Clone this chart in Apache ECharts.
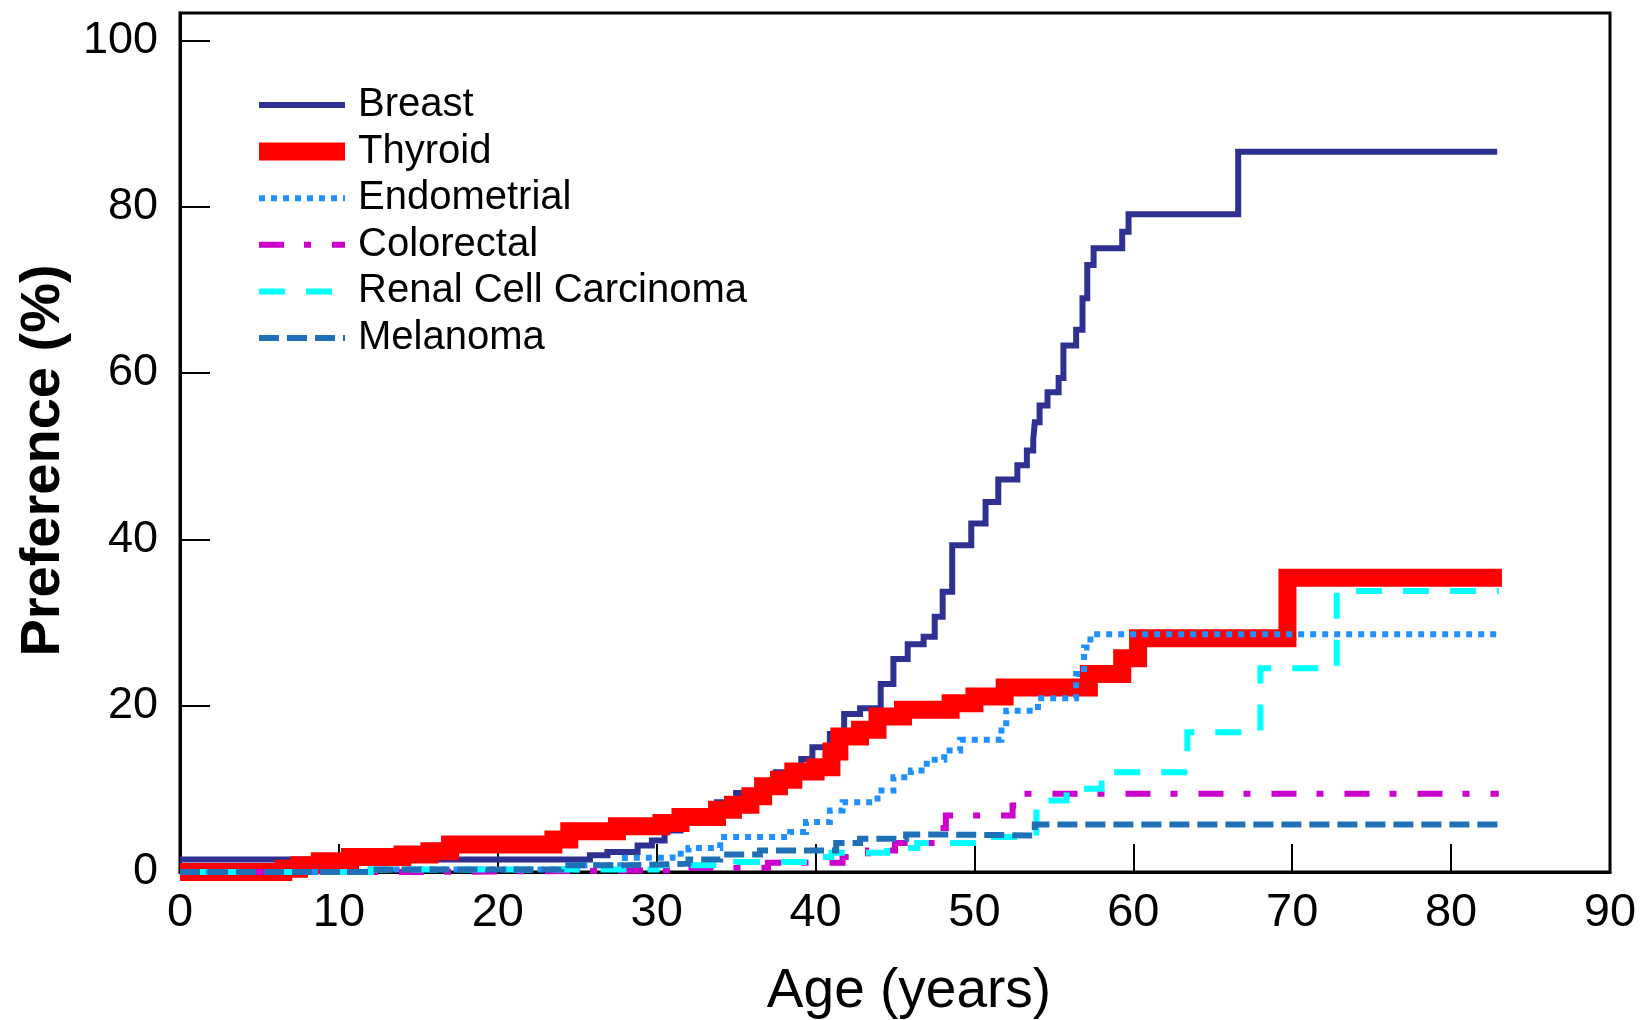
<!DOCTYPE html>
<html>
<head>
<meta charset="utf-8">
<script src="https://cdn.jsdelivr.net/npm/echarts@6/dist/echarts.min.js"></script>
<style>
    html, body { margin: 0; padding: 0; background: #fff; overflow: hidden; }
    #chart { width: 1643px; height: 1020px; }
</style>
</head>
<body>
<div id="chart"></div>
<script>
// cumulative preference (%) by age: [age, percent]
var breast = [[0, 1.5], [25.8, 2.0], [26.9, 2.4], [28.8, 3.2], [29.7, 3.8], [30.5, 5], [31.5, 6], [32.5, 7],
    [33.8, 8.4], [35, 9.5], [36.5, 10.5], [37.5, 12], [39.1, 13.6], [39.8, 15.0], [40.9, 16.6], [41.8, 19.0],
    [42.8, 19.7], [44.1, 22.6], [44.9, 25.6], [45.8, 27.4], [46.8, 28.3], [47.5, 30.7], [48.0, 33.7],
    [48.6, 39.3], [49.8, 41.9], [50.7, 44.5], [51.5, 47.2], [52.7, 48.9], [53.3, 50.7], [53.7, 52.0],
    [53.8, 54.1], [54.1, 56.1], [54.6, 57.7], [55.3, 59.4], [55.6, 63.3], [56.4, 65.2], [56.8, 69.0],
    [57.1, 73.0], [57.5, 75.0], [59.3, 77.0], [59.7, 79.1], [66.6, 86.6], [82.9, 86.6]];
var thyroid = [[0, 0], [6.5, 0.4], [7.5, 0.8], [8.8, 1.3], [10.7, 1.8], [14, 2.1], [15.7, 2.5], [17, 3.3],
    [23.5, 3.9], [24.5, 4.9], [27.5, 5.5], [30.3, 5.9], [31.5, 6.6], [33.8, 7.5], [34.8, 8.1], [35.9, 9.1],
    [36.7, 10.3], [37.7, 11.1], [38.6, 12.1], [40.0, 12.6], [41.0, 14.5], [41.5, 16.3], [42.8, 17.1],
    [43.9, 18.7], [45.5, 19.5], [48.5, 20.3], [50, 21.1], [51.9, 22.2], [57.2, 23.8], [59.3, 25.7],
    [60.3, 28.1], [69.7, 35.4], [83.2, 35.4]];
var endometrial = [[0, 0], [12, 0.3], [25, 0.8], [28, 1.7], [31, 2.2], [32, 2.9], [34, 4.2], [38.4, 4.8],
    [39.4, 6], [40.9, 7.4], [41.7, 8.4], [43.9, 9.8], [44.9, 11.4], [46, 12.2], [47, 13.5], [48.1, 14.6],
    [49.1, 15.9], [51.7, 17.4], [52, 19.4], [54, 20.9], [56.4, 23.8], [56.9, 27], [57.3, 28.6], [83, 28.6]];
var colorectal = [[0, 0], [15, 0.2], [31, 0.5], [37, 1.1], [41.7, 1.8], [43.3, 2.6], [45, 3.5], [47.6, 5.3],
    [48.2, 6.8], [52.4, 8.0], [52.9, 9.4], [83, 9.4]];
var renal = [[0, 0], [12, 0.3], [30, 0.8], [35, 1.2], [39.5, 1.8], [41, 2.3], [44.5, 2.9], [46.4, 3.5],
    [50.5, 4.2], [53.9, 8.6], [55.8, 10.0], [58.0, 12.0], [63.4, 16.8], [68.0, 24.5], [72.8, 33.8], [83, 33.8]];
var melanoma = [[0, 0], [12, 0.3], [24, 0.8], [28, 1.0], [32, 1.5], [34, 2.1], [36.5, 2.6], [41.3, 3.5],
    [42.8, 4.0], [45.7, 4.5], [48.5, 4.4], [53.8, 5.7], [83, 5.7]];

var xTicks = [0, 10, 20, 30, 40, 50, 60, 70, 80, 90];
var yTicks = [0, 20, 40, 60, 80, 100];

var FONT = '"Liberation Sans", Arial, sans-serif';

function stepSeries(name, data, color, width, type) {
    return {
        name: name,
        type: 'line',
        step: 'end',
        symbol: 'none',
        data: data,
        lineStyle: {
            color: color,
            width: width,
            type: type,
            cap: 'butt',
            join: 'miter'
        },
        itemStyle: { color: color }
    };
}

var chart = echarts.init(document.getElementById('chart'), null, { renderer: 'canvas' });
chart.setOption({
    animation: false,
    backgroundColor: '#fff',
    grid: {
        left: 180,
        right: 33,
        top: 13,
        bottom: 148,
        outerBoundsMode: 'none',
        show: true,
        borderColor: '#000',
        borderWidth: 3
    },
    legend: {
        orient: 'vertical',
        left: 245,
        top: 80,
        itemWidth: 86,
        itemHeight: 40,
        itemGap: 6.6,
        // hide the default circle that line series put in their legend icon
        itemStyle: { color: 'rgba(0,0,0,0)', borderWidth: 0, opacity: 0 },
        lineStyle: { width: 'inherit' },
        textStyle: {
            fontFamily: FONT,
            fontSize: 40,
            color: '#000',
            lineHeight: 40,
            padding: [0, 0, 0, 8]
        },
        data: ['Breast', 'Thyroid', 'Endometrial', 'Colorectal', 'Renal Cell Carcinoma', 'Melanoma']
    },
    xAxis: {
        type: 'value',
        min: xTicks[0],
        max: xTicks[xTicks.length - 1],
        interval: 10,
        name: 'Age (years)',
        nameLocation: 'middle',
        nameGap: 92,
        nameTextStyle: { fontFamily: FONT, fontSize: 55, color: '#000', padding: [0, 0, 0, 28] },
        axisLine: { lineStyle: { color: '#000', width: 3 } },
        axisTick: { inside: true, length: 28, lineStyle: { color: '#000', width: 2 } },
        axisLabel: { fontFamily: FONT, fontSize: 47, color: '#000', margin: 18 },
        splitLine: { show: false }
    },
    yAxis: {
        type: 'value',
        min: 0,
        max: 103.3,
        interval: 20,
        name: 'Preference (%)',
        nameLocation: 'middle',
        nameGap: 107,
        nameTextStyle: { fontFamily: FONT, fontSize: 56, fontWeight: 'bold', color: '#000', padding: [0, 36, 0, 0] },
        axisLine: { lineStyle: { color: '#000', width: 3 } },
        axisTick: { inside: true, length: 30, lineStyle: { color: '#000', width: 2 } },
        axisLabel: {
            fontFamily: FONT,
            fontSize: 45,
            color: '#000',
            margin: 22,
            formatter: function (v) {
                return yTicks.indexOf(v) >= 0 ? String(v) : '';
            }
        },
        splitLine: { show: false }
    },
    series: [
        stepSeries('Breast', breast, '#2E3192', 6, 'solid'),
        stepSeries('Thyroid', thyroid, '#FF0000', 18, 'solid'),
        stepSeries('Endometrial', endometrial, '#1E90FF', 6, [6, 6]),
        stepSeries('Colorectal', colorectal, '#CC00CC', 6, [25, 20, 7, 21]),
        stepSeries('Renal Cell Carcinoma', renal, '#00FFFF', 6, [26, 21]),
        stepSeries('Melanoma', melanoma, '#2070B8', 6, [20, 8])
    ]
});
</script>
</body>
</html>
